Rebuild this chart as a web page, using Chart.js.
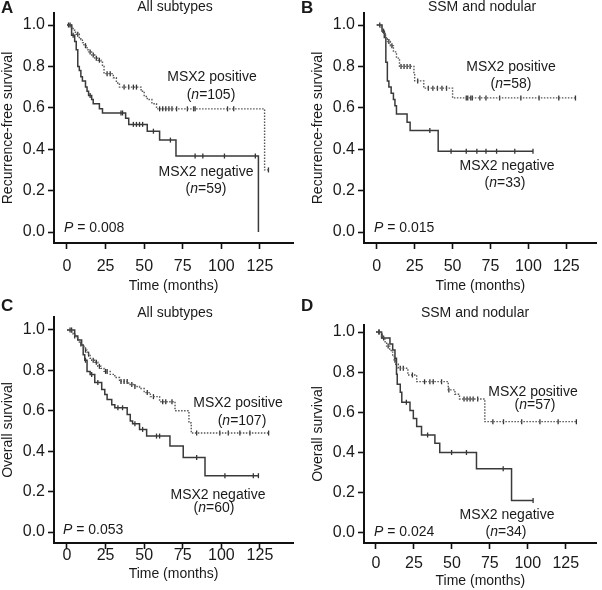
<!DOCTYPE html>
<html>
<head>
<meta charset="utf-8">
<script src="https://cdn.jsdelivr.net/npm/chart.js@4.4.1/dist/chart.umd.min.js"></script>
<style>
  body { margin: 0; background: #fff; }
  #wrap { position: relative; width: 602px; height: 590px; }
  #wrap canvas { position: absolute; }
</style>
</head>
<body>
<div id="wrap">
  <canvas id="chartA" width="301" height="295" style="left:0;top:0"></canvas>
  <canvas id="chartB" width="302" height="295" style="left:300px;top:0"></canvas>
  <canvas id="chartC" width="301" height="295" style="left:0;top:295px"></canvas>
  <canvas id="chartD" width="302" height="295" style="left:300px;top:295px"></canvas>
</div>
<script>
const FONT = '"Liberation Sans", Arial, Helvetica, sans-serif';

const monthTicks = [0, 25, 50, 75, 100, 125];
const survTicks = [0, 0.2, 0.4, 0.6, 0.8, 1.0];

// A - recurrence-free, all subtypes
const aPosTime = [0, 2, 4, 5, 6, 8, 9, 10, 11, 13, 14, 16, 18, 20, 22, 23, 24, 30, 32, 34, 48, 50, 52, 55, 58, 128];
const aPosSurv = [1, .99, .975, .965, .955, .94, .93, .915, .90, .88, .87, .855, .84, .83, .82, .80, .765, .745, .72, .70, .68, .655, .64, .62, .595, .30];
const aPosCens = [1, 3, 7, 12, 15, 17, 19, 21, 26, 28, 37, 40, 43, 45, 60, 62, 64, 66, 68, 71, 78, 82, 83, 104, 108, 130.5];
const aNegTime = [0, 3, 5, 6, 7, 8, 9, 10, 12, 13, 14, 16, 17, 21, 23, 38, 40, 52, 60, 70.6, 124];
const aNegSurv = [1, .95, .92, .88, .80, .78, .75, .73, .70, .68, .66, .64, .62, .595, .575, .55, .52, .487, .444, .367, 0];
const aNegCens = [2, 4, 15, 35, 36, 43, 45, 47, 49, 56, 67, 83, 88, 102, 122];

// B - recurrence-free, SSM and nodular
const bPosTime = [0, 3, 4, 5, 6, 7, 9, 11, 13, 15, 24.5, 25, 31, 50];
const bPosSurv = [1, .98, .965, .95, .935, .92, .90, .87, .84, .80, .76, .73, .695, .648];
const bPosCens = [2, 5.5, 8, 10, 16, 18, 20, 22, 27, 34, 37, 40, 43, 46, 59, 60, 62, 63, 68, 72, 81, 95, 107, 120, 131];
const bNegTime = [0, 3.5, 5, 6, 7, 8, 9.5, 11, 12, 13, 20, 22, 40.5];
const bNegSurv = [1, .97, .94, .82, .73, .70, .67, .64, .61, .57, .53, .49, .39];
const bNegCens = [4.5, 35, 49, 59, 66, 72, 79, 91, 103];

// C - overall, all subtypes
const cPosTime = [0, 3, 4, 5, 6, 7, 8, 9, 10, 11, 12, 13, 14, 15, 16, 18, 20, 22, 24, 28, 31, 34, 40, 44, 47, 50, 54, 60, 70, 79, 80.5];
const cPosSurv = [1, .99, .98, .97, .96, .95, .94, .93, .92, .91, .90, .89, .88, .86, .85, .84, .82, .81, .795, .78, .765, .745, .73, .72, .71, .69, .67, .645, .60, .54, .49];
const cPosCens = [2, 5, 9, 12, 14, 17, 19, 21, 25, 26, 35, 37, 39, 42, 44, 52, 56, 62, 64, 68, 84, 99, 104.5, 112, 118.5, 130.6];
const cNegTime = [0, 5, 7, 9.5, 10.5, 11.5, 13, 15, 18, 22.5, 24.5, 26, 29, 31, 39, 41, 42.5, 47, 51.6, 66.7, 75.3, 89.4];
const cNegSurv = [1, .97, .95, .926, .877, .85, .795, .78, .74, .705, .68, .656, .63, .615, .582, .55, .536, .508, .475, .426, .369, .279];
const cNegCens = [3, 12, 16, 20, 33, 36, 44, 49, 58, 60, 84, 102.3, 120.7, 124];

// D - overall, SSM and nodular
const dPosTime = [0, 3.7, 5, 6, 7, 9, 10, 11, 12, 13, 14.7, 21, 26.8, 47.6, 52, 55, 71.7];
const dPosSurv = [1, .98, .965, .945, .93, .915, .90, .88, .86, .84, .82, .786, .753, .712, .69, .667, .554];
const dPosCens = [2, 4, 8, 12.5, 16, 18, 24, 32, 35.5, 37.7, 43.2, 48, 58, 60, 62, 64, 67, 77, 84, 96, 108, 120, 132];
const dNegTime = [0, 3.7, 9.2, 11, 12.5, 13.5, 14, 16, 17, 22.4, 24.6, 26.8, 30, 38.8, 42, 66.2, 89.3];
const dNegSurv = [1, .97, .94, .91, .87, .79, .74, .70, .65, .61, .57, .53, .487, .446, .40, .319, .162];
const dNegCens = [2, 5, 20, 34, 49.8, 59.6, 83.8, 103.5];

function survAt(times, surv, t) {
  let s = surv[0];
  for (let i = 0; i < times.length; i++) {
    if (times[i] <= t) s = surv[i];
  }
  return s;
}

function curvePoints(times, surv, cens) {
  const pts = times.map((t, i) => ({x: t, y: surv[i]}));
  const end = Math.max(...cens);
  if (end > times[times.length - 1]) pts.push({x: end, y: surv[surv.length - 1]});
  return pts;
}

function censorPoints(times, surv, cens) {
  return cens.map(t => ({x: t, y: survAt(times, surv, t)}));
}

function drawRuns(ctx, runs, x, y, align) {
  let total = 0;
  runs.forEach(r => {
    ctx.font = (r.i ? 'italic ' : '') + '14px ' + FONT;
    r.w = ctx.measureText(r.t).width;
    total += r.w;
  });
  let cx = align === 'left' ? x : x - total / 2;
  ctx.textAlign = 'left';
  runs.forEach(r => {
    ctx.font = (r.i ? 'italic ' : '') + '14px ' + FONT;
    ctx.fillText(r.t, cx, y);
    cx += r.w;
  });
}

const panelText = {
  id: 'panelText',
  afterDraw(chart, args, opts) {
    const ctx = chart.ctx;
    ctx.save();
    ctx.fillStyle = '#1a1a1a';
    ctx.textBaseline = 'middle';
    ctx.textAlign = 'left';
    ctx.font = 'bold 17px ' + FONT;
    ctx.fillText(opts.letter, opts.letterX, opts.letterY);
    ctx.font = '14px ' + FONT;
    ctx.textAlign = 'center';
    ctx.fillText(opts.title, opts.titleX, opts.titleY);
    opts.notes.forEach(n => drawRuns(ctx, n.runs, n.x, n.y, n.align));
    ctx.restore();
  }
};

function makePanel(id, p) {
  const ctx = document.getElementById(id).getContext('2d');
  return new Chart(ctx, {
    type: 'line',
    data: {
      datasets: [
        {
          label: 'MSX2 positive',
          data: curvePoints(p.posTime, p.posSurv, p.posCens),
          borderColor: '#555',
          borderWidth: 1.4,
          borderDash: [1.5, 1.5],
          stepped: 'before',
          pointRadius: 0,
          fill: false
        },
        {
          label: 'MSX2 negative',
          data: curvePoints(p.negTime, p.negSurv, p.negCens),
          borderColor: '#3a3a3a',
          borderWidth: 1.5,
          stepped: 'before',
          pointRadius: 0,
          fill: false
        },
        {
          label: 'censored +',
          data: censorPoints(p.posTime, p.posSurv, p.posCens),
          showLine: false,
          pointStyle: 'line',
          rotation: 90,
          pointRadius: 2.5,
          borderColor: '#333',
          borderWidth: 1.3
        },
        {
          label: 'censored -',
          data: censorPoints(p.negTime, p.negSurv, p.negCens),
          showLine: false,
          pointStyle: 'line',
          rotation: 90,
          pointRadius: 2.5,
          borderColor: '#333',
          borderWidth: 1.3
        }
      ]
    },
    options: {
      responsive: false,
      animation: false,
      layout: { padding: { left: 0, top: p.top, right: p.right, bottom: 0 } },
      plugins: {
        legend: { display: false },
        tooltip: { enabled: false },
        panelText: {
          letter: p.letter, letterX: 1, letterY: p.letterY,
          title: p.title, titleX: p.titleX, titleY: p.titleY,
          notes: p.notes
        }
      },
      scales: {
        x: {
          type: 'linear',
          min: p.xMin,
          max: p.xMax,
          afterBuildTicks: axis => { axis.ticks = monthTicks.map(v => ({value: v})); },
          afterFit: axis => { axis.height = p.xHeight; },
          grid: { drawOnChartArea: false, drawTicks: true, tickLength: 6, tickWidth: 1.6, tickColor: '#111' },
          border: { display: true, color: '#111', width: 2 },
          ticks: { color: '#1a1a1a', font: { family: FONT, size: 16 }, padding: p.xTickPad, maxRotation: 0 },
          title: { display: true, text: 'Time (months)', color: '#1a1a1a', font: { family: FONT, size: 14 }, padding: { top: 0, bottom: p.xTitlePad } }
        },
        y: {
          type: 'linear',
          min: p.yMin,
          max: p.yMax,
          afterBuildTicks: axis => { axis.ticks = survTicks.map(v => ({value: v})); },
          afterFit: axis => { axis.width = p.yWidth; },
          grid: { drawOnChartArea: false, drawTicks: true, tickLength: 6, tickWidth: 1.6, tickColor: '#111' },
          border: { display: true, color: '#111', width: 2 },
          ticks: { color: '#1a1a1a', font: { family: FONT, size: 16 }, padding: 3, callback: v => v.toFixed(1) },
          title: { display: true, text: p.yTitle, color: '#1a1a1a', font: { family: FONT, size: 14 }, padding: { top: p.yTitlePad, bottom: 0 } }
        }
      }
    },
    plugins: [panelText]
  });
}

function nRuns(n) { return [{t: '('}, {t: 'n', i: true}, {t: '=' + n + ')'}]; }
function pRuns(v) { return [{t: 'P', i: true}, {t: ' = ' + v}]; }

makePanel('chartA', {
  posTime: aPosTime, posSurv: aPosSurv, posCens: aPosCens,
  negTime: aNegTime, negSurv: aNegSurv, negCens: aNegCens,
  xMin: -8.4, xMax: 146.4, yMin: -0.053, yMax: 1.058,
  top: 13, right: 8, xHeight: 52, yWidth: 54, xTickPad: 8, xTitlePad: 0, yTitlePad: 0,
  yTitle: 'Recurrence-free survival',
  letter: 'A', letterY: 8, title: 'All subtypes', titleX: 175, titleY: 7,
  notes: [
    {runs: [{t: 'MSX2 positive'}], x: 212, y: 77},
    {runs: nRuns(105), x: 211, y: 95},
    {runs: [{t: 'MSX2 negative'}], x: 206, y: 172},
    {runs: nRuns(59), x: 206, y: 189},
    {runs: pRuns('0.008'), x: 64, y: 228, align: 'left'}
  ]
});

makePanel('chartB', {
  posTime: bPosTime, posSurv: bPosSurv, posCens: bPosCens,
  negTime: bNegTime, negSurv: bNegSurv, negCens: bNegCens,
  xMin: -8.4, xMax: 145, yMin: -0.053, yMax: 1.058,
  top: 13, right: 5, xHeight: 52, yWidth: 64, xTickPad: 8, xTitlePad: 0, yTitlePad: 10,
  yTitle: 'Recurrence-free survival',
  letter: 'B', letterY: 8, title: 'SSM and nodular', titleX: 182, titleY: 7,
  notes: [
    {runs: [{t: 'MSX2 positive'}], x: 211, y: 67},
    {runs: nRuns(58), x: 211, y: 84},
    {runs: [{t: 'MSX2 negative'}], x: 207, y: 166},
    {runs: nRuns(33), x: 205, y: 183},
    {runs: pRuns('0.015'), x: 74, y: 228, align: 'left'}
  ]
});

makePanel('chartC', {
  posTime: cPosTime, posSurv: cPosSurv, posCens: cPosCens,
  negTime: cNegTime, negSurv: cNegSurv, negCens: cNegCens,
  xMin: -8.4, xMax: 146.4, yMin: -0.054, yMax: 1.064,
  top: 22, right: 8, xHeight: 47, yWidth: 54, xTickPad: -3, xTitlePad: 7, yTitlePad: 0,
  yTitle: 'Overall survival',
  letter: 'C', letterY: 11, title: 'All subtypes', titleX: 175, titleY: 18,
  notes: [
    {runs: [{t: 'MSX2 positive'}], x: 238, y: 108},
    {runs: nRuns(107), x: 242, y: 126},
    {runs: [{t: 'MSX2 negative'}], x: 218, y: 200},
    {runs: nRuns(60), x: 214, y: 213},
    {runs: pRuns('0.053'), x: 63, y: 235, align: 'left'}
  ]
});

makePanel('chartD', {
  posTime: dPosTime, posSurv: dPosSurv, posCens: dPosCens,
  negTime: dNegTime, negSurv: dNegSurv, negCens: dNegCens,
  xMin: -7.9, xMax: 145.4, yMin: -0.05, yMax: 1.035,
  top: 30, right: 5, xHeight: 47, yWidth: 64, xTickPad: 5, xTitlePad: 0, yTitlePad: 10,
  yTitle: 'Overall survival',
  letter: 'D', letterY: 11, title: 'SSM and nodular', titleX: 175, titleY: 18,
  notes: [
    {runs: [{t: 'MSX2 positive'}], x: 233, y: 97},
    {runs: nRuns(57), x: 235, y: 110},
    {runs: [{t: 'MSX2 negative'}], x: 207, y: 220},
    {runs: nRuns(34), x: 206, y: 237},
    {runs: pRuns('0.024'), x: 74, y: 237, align: 'left'}
  ]
});
</script>
</body>
</html>
